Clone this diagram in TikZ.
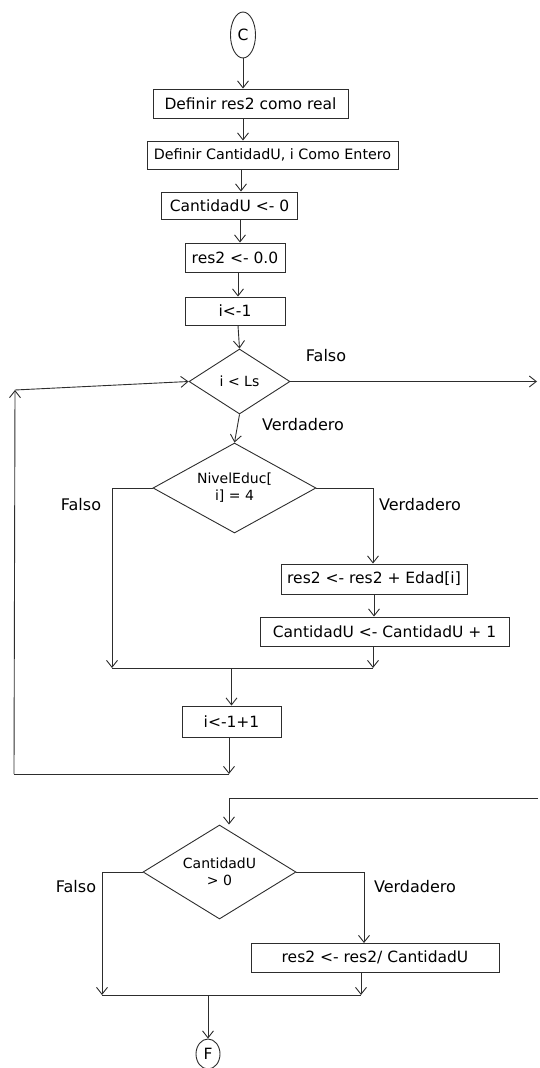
\documentclass[tikz,border=0pt]{standalone}
\usepackage{fontspec}
\setmainfont{DejaVu Sans}
\usetikzlibrary{arrows.meta, shapes.geometric, calc}

\tikzset{
    caja/.style={draw=trazo, rectangle, inner sep=0pt, line width=0.9pt, font=\fontsize{15.5}{18}\selectfont},
    rombo/.style={draw=trazo, diamond, inner sep=0pt, line width=0.9pt, align=center, font=\fontsize{14}{17}\selectfont},
    terminal/.style={draw=trazo, ellipse, inner sep=0pt, line width=0.9pt, font=\fontsize{15.5}{18}\selectfont},
    etiqueta/.style={font=\fontsize{16}{19}\selectfont},
    flecha/.style={draw=trazo, line width=0.9pt, -{Straight Barb[length=7pt,width=11pt]}},
    linea/.style={draw=trazo, line width=0.9pt},
}
\definecolor{trazo}{RGB}{45,45,45}

\begin{document}
\begin{tikzpicture}[x=1pt, y=-1pt]
    \useasboundingbox (0,0) rectangle (539,1068);

    \node[terminal, minimum width=25pt, minimum height=46pt] (ini) at (243,35) {C};
    \node[caja, minimum width=195pt, minimum height=29pt] (b1) at (250.5,103.5) {Definir res2 como real};
    \node[caja, minimum width=251pt, minimum height=28pt, font=\fontsize{14.3}{18}\selectfont] (b2) at (272.5,155) {Definir CantidadU, i Como Entero};
    \node[caja, minimum width=136pt, minimum height=27pt] (b3) at (229.5,205.5) {CantidadU <- 0};
    \node[caja, minimum width=100pt, minimum height=29pt] (b4) at (235,257.5) {res2 <- 0.0};
    \node[caja, minimum width=100pt, minimum height=28pt] (b5) at (235,311) {i<-1};
    \node[rombo, minimum width=101pt, minimum height=65pt, shape aspect=1.55] (d1) at (239.5,381.5) {i < Ls};
    \node[rombo, minimum width=163pt, minimum height=90pt, shape aspect=1.8] (d2) at (234.5,488) {NivelEduc[\\i] = 4};
    \node[caja, minimum width=186pt, minimum height=30pt] (b6) at (374,579) {res2 <- res2 + Edad[i]};
    \node[caja, minimum width=249pt, minimum height=29pt] (b7) at (384.5,631.5) {CantidadU <- CantidadU + 1};
    \node[caja, minimum width=99pt, minimum height=31pt] (b8) at (231.5,721.5) {i<-1+1};
    \node[rombo, minimum width=153pt, minimum height=94pt, shape aspect=1.6] (d3) at (219.5,872) {CantidadU\\> 0};
    \node[caja, minimum width=248pt, minimum height=29pt] (b9) at (375,957.5) {res2 <- res2/ CantidadU};
    \node[terminal, minimum width=24pt, minimum height=30pt] (fin) at (208,1054) {F};

    \node[etiqueta] (lf1) at (326,356) {Falso};
    \node[etiqueta] (lv1) at (303,425) {Verdadero};
    \node[etiqueta] (lf2) at (81,505) {Falso};
    \node[etiqueta] (lv2) at (420,505) {Verdadero};
    \node[etiqueta] (lf3) at (76,887) {Falso};
    \node[etiqueta] (lv3) at (415,887) {Verdadero};

    \coordinate (salida) at (537,381.5);
    \coordinate (m1l) at (112,668);
    \coordinate (m1r) at (373,668);
    \coordinate (r1) at (229,774);
    \coordinate (r2) at (14,774);
    \coordinate (r3) at (15,390);
    \coordinate (entrada) at (538,798);
    \coordinate (e2) at (229,798);
    \coordinate (v3) at (364,943);
    \coordinate (m2l) at (102,995);
    \coordinate (m2r) at (361,995);

    \draw[flecha] (ini.south) -- (ini.south |- b1.north);
    \draw[flecha] (b1.south -| ini.south) -- (b2.north -| ini.south);
    \draw[flecha] ($(b2.south -| ini.south)+(-2,0)$) -- ($(b3.north -| ini.south)+(-2,0)$);
    \draw[flecha] ($(b3.south -| ini.south)+(-3,0)$) -- ($(b4.north -| ini.south)+(-3,0)$);
    \draw[flecha] ($(b4.south -| ini.south)+(-5,0)$) -- ($(b5.north -| ini.south)+(-5,0)$);
    \draw[flecha] ($(b5.south -| ini.south)+(-5,0)$) -- (d1.north);

    \draw[flecha] (d1.east) -- (salida);
    \draw[flecha] (d1.south) -- (d2.north);

    \draw[flecha] (d2.west) -| (m1l);
    \draw[flecha] (d2.east) -| (b6.north -| m1r);
    \draw[flecha] (b6.south) -- (b6.south |- b7.north);
    \draw[flecha] (b7.south -| m1r) -- (m1r);
    \draw[linea] (m1l) -- (m1r);
    \draw[flecha] (b8.north |- m1l) -- (b8.north);

    \draw[flecha] (b8.south -| r1) -- (r1);
    \draw[linea] (r1) -- (r2);
    \draw[flecha] (r2) -- (r3);
    \draw[flecha] (r3) -- (d1.west);

    \draw[linea] (entrada) -- (e2);
    \draw[flecha] (e2) -- (e2 |- d3.north);
    \draw[flecha] (d3.west) -| (m2l);
    \draw[flecha] (d3.east) -| (v3);
    \draw[flecha] (b9.south -| m2r) -- (m2r);
    \draw[linea] (m2l) -- (m2r);
    \draw[flecha] (fin.north |- m2l) -- (fin.north);
\end{tikzpicture}
\end{document}
